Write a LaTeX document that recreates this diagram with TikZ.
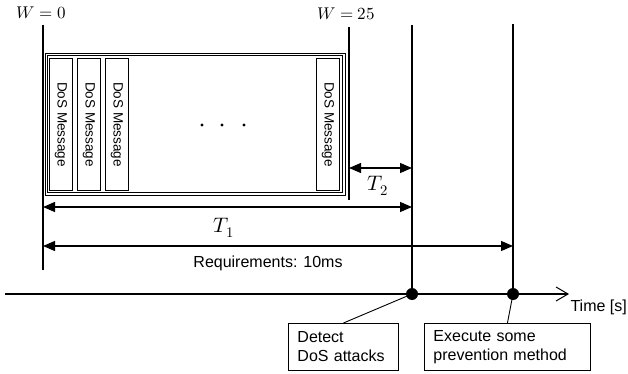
\documentclass[tikz,border=0pt]{standalone}
\usepackage{fontspec}
\usepackage{unicode-math}
\setmainfont{Liberation Sans}
\setmathfont{Latin Modern Math}
\usetikzlibrary{arrows.meta}
\begin{document}
\begin{tikzpicture}[x=1pt,y=-1pt,line width=1.1pt,
  msgbox/.style={draw,line width=0.9pt,minimum width=23pt,minimum height=132pt,inner sep=0pt,anchor=north west,
    font=\fontsize{13.5}{16}\selectfont},
  callout/.style={draw,line width=0.9pt,anchor=north west,minimum height=47pt,align=left,inner xsep=9pt,
    font=\fontsize{16}{19}\selectfont},
  mlabel/.style={font=\fontsize{17}{20}\selectfont},
  tmath/.style={font=\fontsize{21}{24}\selectfont},
  tlabel/.style={font=\fontsize{16}{19}\selectfont},
  dim/.style={line width=1.1pt,{Triangle[length=12pt,width=10pt]}-{Triangle[length=12pt,width=10pt]}},
  dot/.style={circle,fill,inner sep=0pt,minimum size=12pt}]
\useasboundingbox (0,0) rectangle (628,374);
% labels
\node[mlabel] (w0) at (41,13) {$W=0$};
\node[mlabel] (w25) at (346,14) {$W=25$};
% vertical lines
\coordinate (v1t) at (43,25); \coordinate (v1b) at (43,270);
\coordinate (v2t) at (349,27); \coordinate (v2b) at (349,200);
\coordinate (v3t) at (412,25);
\coordinate (v4t) at (513,24);
\draw (v1t) -- (v1b);
\draw (v2t) -- (v2b);
% window box (double)
\draw[line width=0.9pt] (45,53) rectangle (345,195);
\draw[line width=0.9pt] (47.5,55.5) rectangle (342.5,192.5);
% messages
\node[msgbox] (m1) at (49,58) {\rotatebox{-90}{DoS Message}};
\node[msgbox] (m2) at (77,58) {\rotatebox{-90}{DoS Message}};
\node[msgbox] (m3) at (105,58) {\rotatebox{-90}{DoS Message}};
\node[msgbox] (m4) at (316,58) {\rotatebox{-90}{DoS Message}};
\fill (202,125) circle (1.6pt) (222,125) circle (1.6pt) (244,125) circle (1.6pt);
% timeline
\coordinate (tl0) at (5,294); \coordinate (tl1) at (569,294);
\draw[-{Straight Barb[length=12pt,width=14pt,line width=1pt]}] (tl0) -- (tl1);
\node[dot] (d1) at (412,294) {};
\node[dot] (d2) at (513,294) {};
\draw (v3t) -- (d1.center);
\draw (v4t) -- (d2.center);
\node[tlabel,anchor=west,inner sep=0pt] (time) at (570,307) {Time [s]};
% dimensions
\coordinate (t2a) at (349,168); \coordinate (t2b) at (412,168);
\draw[dim] (t2a) -- (t2b);
\node[tmath] (T2) at (378,186) {$T_2$};
\coordinate (t1a) at (43,207); \coordinate (t1b) at (412,207);
\draw[dim] (t1a) -- (t1b);
\node[tmath] (T1) at (224,228) {$T_1$};
\coordinate (ra) at (43,246); \coordinate (rb) at (513,246);
\draw[dim] (ra) -- (rb);
\node[tlabel] (req) at (268,263) {Requirements: 10ms};
% callouts
\node[callout,text width=92pt] (det) at (288,323) {Detect\\DoS attacks};
\node[callout,text width=148pt] (exe) at (424,323) {Execute some\\prevention method};
\draw[line width=0.9pt] (d1.center) -- (det.north);
\draw[line width=0.9pt] (d2.center) -- (exe.north);
\end{tikzpicture}
\end{document}
